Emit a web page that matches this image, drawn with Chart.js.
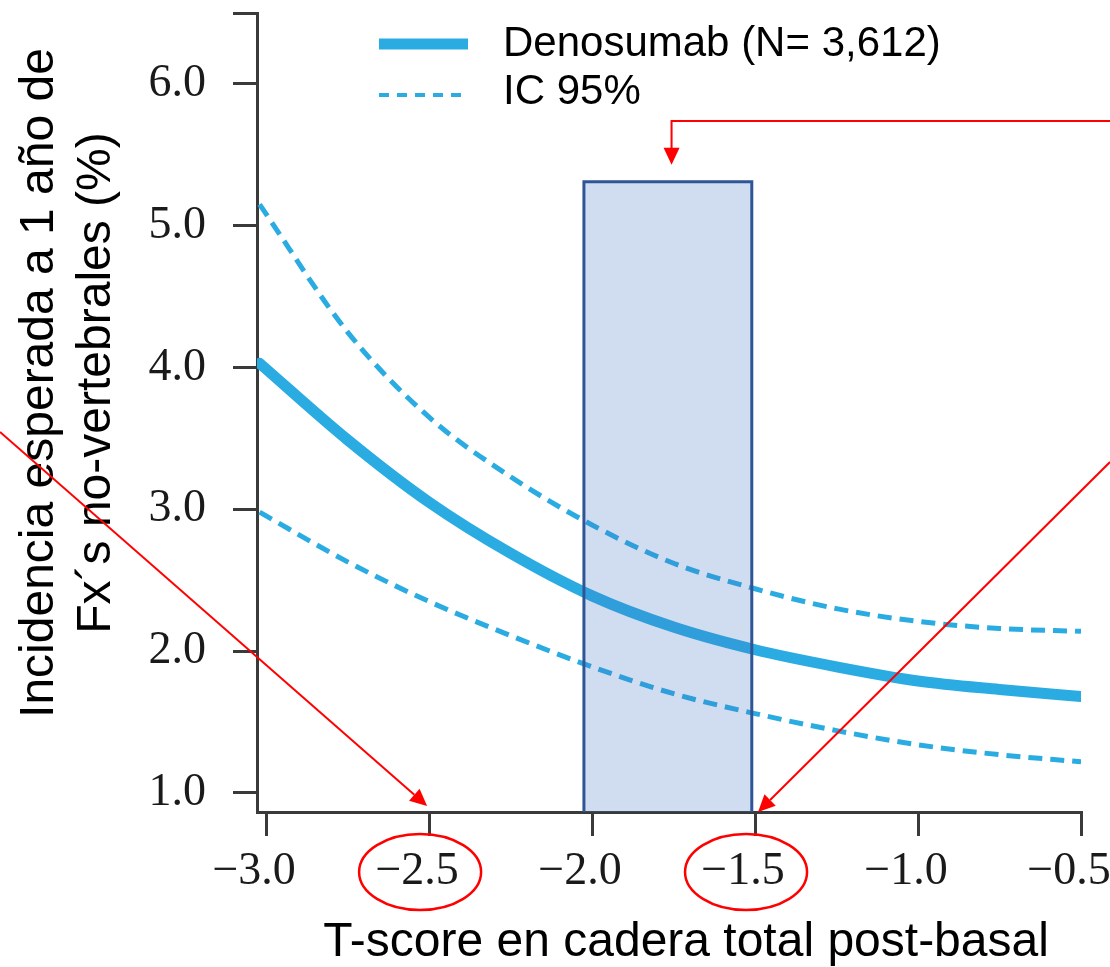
<!DOCTYPE html>
<html lang="es">
<head>
<meta charset="utf-8">
<title>Denosumab: incidencia esperada de fracturas no vertebrales</title>
<script src="https://cdn.jsdelivr.net/npm/chart.js@4.4.1/dist/chart.umd.min.js"></script>
<style>
  html, body { margin: 0; padding: 0; background: #ffffff; }
  canvas { display: block; }
</style>
</head>
<body>
<canvas id="chart" width="1110" height="967"></canvas>
<script>
// T-score values at which the fitted curves are sampled
const tScores = [-3.02, -2.75, -2.5, -2.25, -2.0, -1.75, -1.5, -1.25, -1.0, -0.75, -0.5];
// Expected 1-year incidence of non-vertebral fractures (%) and its 95% CI
const incidence = [4.03, 3.49, 3.05, 2.69, 2.39, 2.17, 2.01, 1.89, 1.79, 1.73, 1.68];
const ciUpper   = [5.15, 4.25, 3.65, 3.23, 2.89, 2.62, 2.44, 2.30, 2.21, 2.16, 2.14];
const ciLower   = [2.98, 2.63, 2.35, 2.11, 1.89, 1.70, 1.56, 1.44, 1.34, 1.27, 1.22];

// Highlighted T-score band and its height
const bandX = [-2.025, -1.51];
const bandTop = 5.31;

// Axis ticks and texts
const xTicks = [-3.0, -2.5, -2.0, -1.5, -1.0, -0.5];
const yTicks = [1.0, 2.0, 3.0, 4.0, 5.0, 6.0, 6.5];
const yLabelledTicks = [1.0, 2.0, 3.0, 4.0, 5.0, 6.0];
const xRange = [-3.028, -0.5];
const yRange = [0.866, 6.5];
const seriesLabels = ['Denosumab (N= 3,612)', 'IC 95%'];
const xTitle = 'T-score en cadera total post-basal';
const yTitle = ['Incidencia esperada a 1 año de', 'Fx\u00B4s no-vertebrales (%)'];

// Ticks that are circled and pointed at, and the band centre that is pointed at
const circledTicks = [-2.5, -1.5];
const bandPointer = -1.75;

const BLUE = '#2aace2';
const AXIS = '#3a3a3a';
const RED = '#ff0000';
const SERIF = "'Liberation Serif', 'Times New Roman', serif";
const SANS = "'Liberation Sans', Arial, sans-serif";

const pts = (ys) => tScores.map((t, i) => ({ x: t, y: ys[i] }));

const bandPoints = [
  { x: bandX[0], y: yRange[0] },
  { x: bandX[0], y: bandTop },
  { x: bandX[1], y: bandTop },
  { x: bandX[1], y: yRange[0] }
];

function arrowHead(ctx, fromX, fromY, tipX, tipY, len, half) {
  const a = Math.atan2(tipY - fromY, tipX - fromX);
  const bx = tipX - len * Math.cos(a), by = tipY - len * Math.sin(a);
  ctx.beginPath();
  ctx.moveTo(tipX, tipY);
  ctx.lineTo(bx + half * Math.sin(a), by - half * Math.cos(a));
  ctx.lineTo(bx - half * Math.sin(a), by + half * Math.cos(a));
  ctx.closePath();
  ctx.fill();
  return [bx, by];
}

function arrow(ctx, fromX, fromY, tipX, tipY) {
  const [bx, by] = arrowHead(ctx, fromX, fromY, tipX, tipY, 17, 8);
  ctx.beginPath();
  ctx.moveTo(fromX, fromY);
  ctx.lineTo(bx, by);
  ctx.stroke();
}

// Legend, axis titles and red call-outs
const overlay = {
  id: 'overlay',
  afterDraw(chart) {
    const { ctx, chartArea, scales } = chart;
    const xs = scales.x, ys = scales.y;
    const W = chart.width;

    // legend
    ctx.save();
    const legendRows = [
      { ds: chart.data.datasets[0], lineY: 44, textY: 56, width: 11, dash: [] },
      { ds: chart.data.datasets[1], lineY: 95, textY: 104, width: 4, dash: [10, 8] }
    ];
    legendRows.forEach((r, i) => {
      ctx.strokeStyle = r.ds.borderColor;
      ctx.lineWidth = r.width;
      ctx.lineCap = 'butt';
      ctx.setLineDash(r.dash);
      ctx.beginPath();
      ctx.moveTo(379, r.lineY);
      ctx.lineTo(468, r.lineY);
      ctx.stroke();
      ctx.setLineDash([]);
      ctx.fillStyle = '#000';
      ctx.font = '42px ' + SANS;
      ctx.textAlign = 'left';
      ctx.textBaseline = 'alphabetic';
      ctx.fillText(seriesLabels[i], 503, r.textY);
    });

    // axis titles
    ctx.fillStyle = '#000';
    ctx.font = '48px ' + SANS;
    ctx.textAlign = 'center';
    ctx.textBaseline = 'alphabetic';
    ctx.fillText(xTitle, 686, 956);
    [53, 110].forEach((bx, i) => {
      ctx.save();
      ctx.translate(bx, 383);
      ctx.rotate(-Math.PI / 2);
      ctx.fillText(yTitle[i], 0, 0);
      ctx.restore();
    });

    // red call-outs
    ctx.strokeStyle = RED;
    ctx.fillStyle = RED;
    ctx.lineWidth = 2;
    const axisY = chartArea.bottom;
    arrow(ctx, 0, 432, xs.getPixelForValue(circledTicks[0]) - 2, axisY - 6);
    arrow(ctx, W, 462, xs.getPixelForValue(circledTicks[1]) + 3, axisY);

    const px = xs.getPixelForValue(bandPointer) - 2;
    const tipY = ys.getPixelForValue(bandTop) - 17;
    ctx.beginPath();
    ctx.moveTo(W, 121);
    ctx.lineTo(px, 121);
    ctx.lineTo(px, tipY - 16);
    ctx.stroke();
    arrowHead(ctx, px, 121, px, tipY, 17, 8);

    ctx.lineWidth = 2.5;
    circledTicks.forEach(v => {
      ctx.beginPath();
      ctx.ellipse(xs.getPixelForValue(v) - 9, 872, 61, 38, 0, 0, Math.PI * 2);
      ctx.stroke();
    });
    ctx.restore();
  }
};

new Chart(document.getElementById('chart'), {
  type: 'line',
  data: {
    datasets: [
      {
        label: seriesLabels[0],
        data: pts(incidence),
        borderColor: BLUE,
        borderWidth: 11,
        borderCapStyle: 'round',
        pointRadius: 0,
        cubicInterpolationMode: 'monotone',
        fill: false,
        order: 1
      },
      {
        label: seriesLabels[1],
        data: pts(ciUpper),
        borderColor: BLUE,
        borderWidth: 5,
        borderDash: [14, 8],
        pointRadius: 0,
        cubicInterpolationMode: 'monotone',
        fill: false,
        order: 2
      },
      {
        label: seriesLabels[1],
        data: pts(ciLower),
        borderColor: BLUE,
        borderWidth: 5,
        borderDash: [14, 8],
        pointRadius: 0,
        cubicInterpolationMode: 'monotone',
        fill: false,
        order: 3
      },
      {
        label: 'band',
        data: bandPoints,
        borderColor: '#2f5597',
        borderWidth: 3,
        backgroundColor: 'rgba(68, 114, 196, 0.25)',
        pointRadius: 0,
        tension: 0,
        fill: 'origin',
        order: 0
      }
    ]
  },
  options: {
    responsive: false,
    animation: false,
    events: [],
    layout: { padding: { top: 13, right: 29, left: 0, bottom: 0 } },
    plugins: {
      legend: { display: false },
      tooltip: { enabled: false },
      title: { display: false }
    },
    scales: {
      x: {
        type: 'linear',
        min: xRange[0],
        max: xRange[1],
        bounds: 'data',
        afterBuildTicks: s => { s.ticks = xTicks.map(v => ({ value: v })); },
        afterFit: s => { s.height = 155; s.paddingLeft = 0; s.paddingRight = 0; },
        grid: { drawOnChartArea: false, drawTicks: true, tickLength: 24, color: AXIS, lineWidth: 3 },
        border: { display: true, color: AXIS, width: 3 },
        ticks: {
          padding: 8,
          labelOffset: -12,
          maxRotation: 0,
          autoSkip: false,
          color: '#1a1a1a',
          font: { family: SERIF, size: 46 },
          callback: v => '\u2212' + Math.abs(v).toFixed(1)
        }
      },
      y: {
        type: 'linear',
        min: yRange[0],
        max: yRange[1],
        bounds: 'data',
        afterBuildTicks: s => { s.ticks = yTicks.map(v => ({ value: v })); },
        afterFit: s => { s.width = 257; s.paddingTop = 0; s.paddingBottom = 0; },
        grid: { drawOnChartArea: false, drawTicks: true, tickLength: 24, color: AXIS, lineWidth: 3 },
        border: { display: true, color: AXIS, width: 3 },
        ticks: {
          padding: 27,
          autoSkip: false,
          color: '#1a1a1a',
          font: { family: SERIF, size: 46 },
          callback: v => yLabelledTicks.includes(v) ? v.toFixed(1) : ''
        }
      }
    }
  },
  plugins: [overlay]
});
</script>
</body>
</html>
